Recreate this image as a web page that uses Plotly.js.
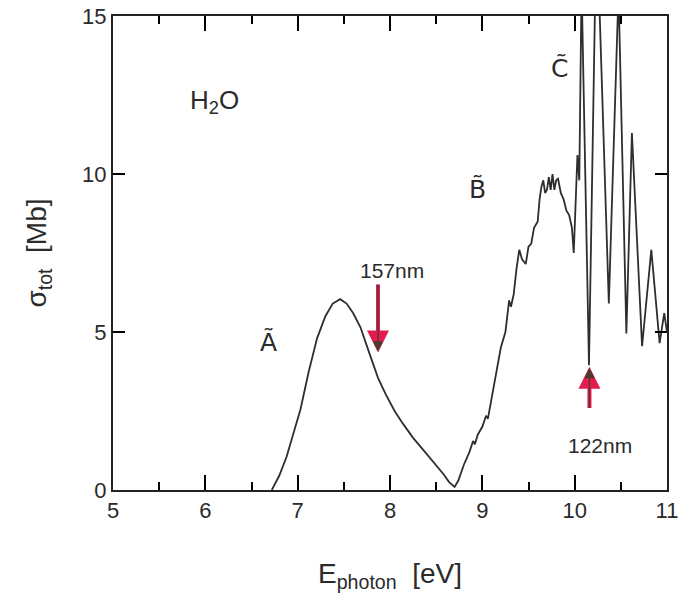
<!DOCTYPE html>
<html>
<head>
<meta charset="utf-8">
<script src="https://cdn.plot.ly/plotly-3.0.1.min.js"></script>
<style>html,body{margin:0;padding:0;}</style>
</head>
<body>
<div id="chart" style="width:680px;height:593px;"></div>
<script>
// Photon energy (eV)
const energy = [6.72, 6.80, 6.88, 6.95, 7.03, 7.12, 7.21, 7.30, 7.38, 7.46, 7.53, 7.60, 7.68, 7.78, 7.87, 7.95,
  8.05, 8.14, 8.25, 8.36, 8.47, 8.58, 8.64, 8.70, 8.74, 8.80, 8.86, 8.90, 8.92, 8.95, 9.00, 9.04, 9.06, 9.10,
  9.15, 9.20, 9.25, 9.29, 9.31, 9.34, 9.37, 9.40, 9.43, 9.47, 9.50, 9.53, 9.56, 9.60, 9.62, 9.64, 9.66, 9.68,
  9.70, 9.72, 9.74, 9.76, 9.78, 9.80, 9.82, 9.85, 9.88, 9.91, 9.94, 9.97, 9.99, 10.03, 10.05, 10.075, 10.155,
  10.23, 10.25, 10.37, 10.475, 10.56, 10.62, 10.73, 10.83, 10.92, 10.97, 11.0];
// Total cross section (Mb)
const sigma = [0.0, 0.45, 1.05, 1.75, 2.55, 3.75, 4.8, 5.5, 5.9, 6.04, 5.9, 5.6, 5.15, 4.3, 3.55, 3.05,
  2.5, 2.1, 1.65, 1.27, 0.9, 0.5, 0.25, 0.1, 0.3, 0.8, 1.2, 1.55, 1.45, 1.75, 2.0, 2.35, 2.25, 2.9,
  3.8, 4.5, 5.0, 6.0, 5.8, 6.2, 7.0, 7.6, 7.3, 7.15, 7.7, 7.8, 8.3, 8.5, 9.2, 9.6, 9.8, 9.4,
  9.5, 9.9, 9.5, 10.0, 9.5, 9.8, 9.85, 9.4, 9.2, 8.85, 8.7, 8.3, 7.5, 10.6, 9.8, 16.0, 3.95,
  17.0, 17.0, 5.9, 15.8, 4.95, 11.3, 4.55, 7.6, 4.65, 5.6, 5.0];

// Axis ticks
const xMinorStep = 0.5;
const yTickStep = 5;

// Labels in the plot
const bandLabels = ["Ã", "B̃", "C̃"];
const bandX = [6.68, 8.95, 9.84];
const bandY = [4.68, 9.5, 13.35];

// Wavelength markers
const markerE = [7.87, 10.16];
const markerTip = [4.35, 3.9];
const markerTail = [6.55, 2.55];
const markerText = ["157nm", "122nm"];
const markerTextX = [8.02, 10.27];
const markerTextY = [6.95, 1.42];

const ink = "#222222";
const tickFont = {family: "Liberation Sans, Arial, sans-serif", size: 22, color: "#2a2a2a"};

const annotations = [];
annotations.push({x: 6.1, y: 12.3, xref: "x", yref: "y", text: "H<sub>2</sub>O", showarrow: false,
  font: {family: "Liberation Sans, Arial, sans-serif", size: 26, color: "#2a2a2a"}});
for (let i = 0; i < bandLabels.length; i++) {
  annotations.push({x: bandX[i], y: bandY[i], xref: "x", yref: "y", text: bandLabels[i], showarrow: false,
    font: {family: "DejaVu Sans, sans-serif", size: 25, color: "#2a2a2a"}});
}
for (let i = 0; i < markerE.length; i++) {
  annotations.push({x: markerE[i], y: markerTip[i], ax: markerE[i], ay: markerTail[i], axref: "x", ayref: "y",
    xref: "x", yref: "y", text: "", showarrow: true, arrowhead: 2, arrowsize: 1.1, arrowwidth: 4,
    arrowcolor: "#e31b4e", standoff: 0});
  annotations.push({x: markerE[i], y: markerTip[i], ax: markerE[i], ay: markerTail[i], axref: "x", ayref: "y",
    xref: "x", yref: "y", text: "", showarrow: true, arrowhead: 2, arrowsize: 1.6, arrowwidth: 1.3,
    arrowcolor: "#4a3a2c", standoff: 1});
  annotations.push({x: markerTextX[i], y: markerTextY[i], xref: "x", yref: "y", text: markerText[i], showarrow: false,
    font: {family: "Liberation Sans, Arial, sans-serif", size: 21, color: "#2a2a2a"}});
}

const trace = {x: energy, y: sigma, type: "scatter", mode: "lines",
  line: {color: "#2e2e2e", width: 1.8}};

const layout = {
  width: 680, height: 593,
  margin: {l: 113, r: 13, t: 16, b: 103},
  xaxis: {range: [5, 11], ticks: "inside", ticklen: 15, tickwidth: 2, tickcolor: "#000",
    showline: true, linewidth: 2, linecolor: ink, mirror: "ticks", showgrid: false, zeroline: false,
    tickfont: tickFont,
    minor: {dtick: xMinorStep, ticks: "inside", ticklen: 8, tickwidth: 2, tickcolor: "#000"},
    title: {text: "E<sub>photon</sub>  [eV]", font: {family: "Liberation Sans, Arial, sans-serif", size: 28, color: "#2a2a2a"}}},
  yaxis: {range: [0, 15], ticks: "inside", ticklen: 12, tickwidth: 2, tickcolor: "#000",
    showline: true, linewidth: 2, linecolor: ink, mirror: "ticks", showgrid: false, zeroline: false,
    dtick: yTickStep, tickfont: tickFont,
    title: {text: "σ<sub>tot</sub>  [Mb]", font: {family: "Liberation Sans, Arial, sans-serif", size: 28, color: "#2a2a2a"}}},
  annotations: annotations
};

Plotly.newPlot("chart", [trace], layout, {displayModeBar: false});
</script>
</body>
</html>
